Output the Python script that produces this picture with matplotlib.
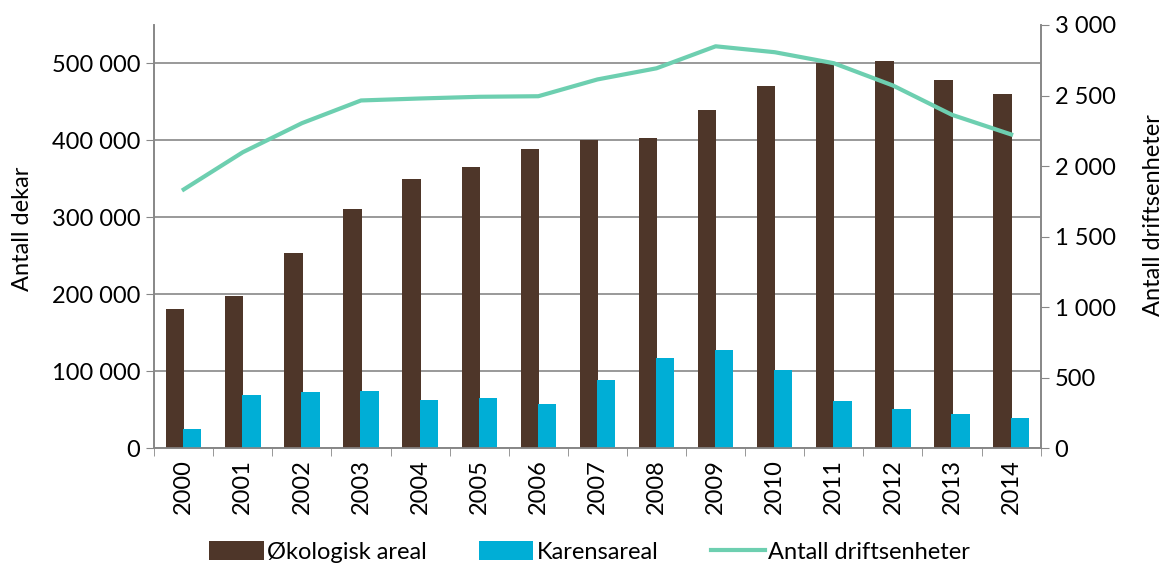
import matplotlib.pyplot as plt
import numpy as np

years = ["2000", "2001", "2002", "2003", "2004", "2005", "2006", "2007",
         "2008", "2009", "2010", "2011", "2012", "2013", "2014"]
okologisk = [181000, 198000, 253000, 311000, 350000, 365000, 389000, 401000,
             403000, 440000, 471000, 501000, 503000, 478000, 460000]
karens = [25000, 69000, 73000, 74000, 62000, 65000, 58000, 88000,
          117000, 128000, 101000, 61000, 51000, 44000, 39000]
driftsenheter = [1834, 2098, 2304, 2465, 2479, 2491, 2495, 2614,
                 2693, 2849, 2807, 2729, 2571, 2363, 2224]

plt.rcParams['font.family'] = ['Lato', 'DejaVu Sans']
brown = "#4E3629"
cyan = "#00AED6"
teal = "#6DCFB0"
grid = "#878787"
fs = 17

fig = plt.figure(figsize=(11.68, 5.68), dpi=100)
ax = fig.add_axes([0.132, 0.211, 0.759, 0.745])
ax2 = ax.twinx()

x = np.arange(len(years))
w = 0.31
b1 = ax.bar(x - 0.145, okologisk, w, color=brown, zorder=3)
b2 = ax.bar(x + 0.145, karens, w, color=cyan, zorder=3)
l1, = ax2.plot(x, driftsenheter, color=teal, lw=3)

ax.set_xlim(-0.5, len(years) - 0.5)
ax.set_ylim(0, 550000)
ax2.set_ylim(0, 3000)

def fmt(v):
    return f"{int(v):,}".replace(",", " ")

yt = np.arange(0, 500001, 100000)
ax.set_yticks(yt)
ax.set_yticklabels([fmt(v) for v in yt])
yt2 = np.arange(0, 3001, 500)
ax2.set_yticks(yt2)
ax2.set_yticklabels([fmt(v) for v in yt2])

ax.set_xticks(x)
ax.set_xticklabels(years, rotation=90)
ax.set_xticks(np.arange(-0.5, len(years), 1), minor=True)
ax.tick_params(axis='x', which='major', length=0, pad=8, labelsize=fs)
ax.tick_params(axis='x', which='minor', length=6, color=grid, direction='out')
ax.tick_params(axis='y', length=6, color=grid, labelsize=fs, pad=4)
ax2.tick_params(axis='y', length=6, color=grid, labelsize=fs, pad=4)

ax.yaxis.grid(True, color=grid, lw=1.2, zorder=0)
ax.set_axisbelow(True)
for a in (ax, ax2):
    a.spines['top'].set_visible(False)
    for s in ('left', 'right', 'bottom'):
        a.spines[s].set_color(grid)
        a.spines[s].set_linewidth(1.2)

ax.set_ylabel("Antall dekar", fontsize=fs)
ax.yaxis.set_label_coords(-0.137, 0.518)
ax2.set_ylabel("Antall driftsenheter", fontsize=fs)
ax2.yaxis.set_label_coords(1.115, 0.55)

fig.legend([b1, b2, l1], ["Økologisk areal", "Karensareal", "Antall driftsenheter"],
           loc='center', bbox_to_anchor=(0.505, 0.028), ncol=3, frameon=False,
           fontsize=fs, handlelength=2.3, handleheight=0.85, handletextpad=0.15,
           columnspacing=2.2)

fig.savefig("out.png", dpi=100)
